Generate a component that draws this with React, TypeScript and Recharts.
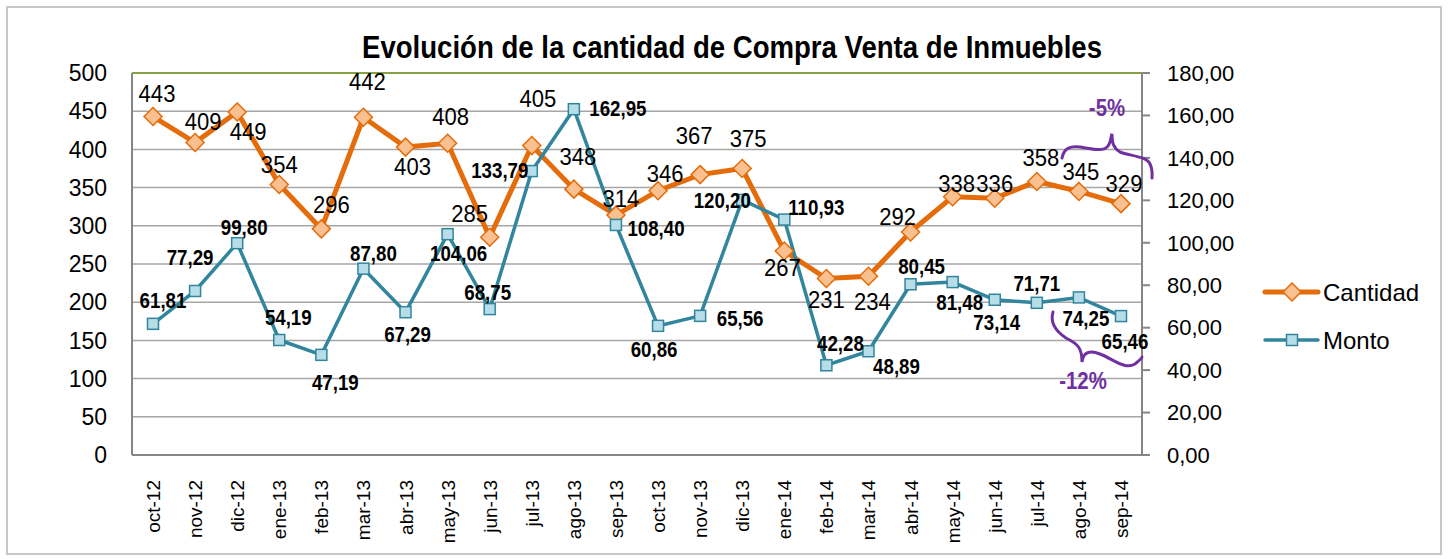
import React from "react";
import {
  LineChart,
  Line,
  XAxis,
  YAxis,
  CartesianGrid,
  ReferenceLine,
  LabelList,
} from "recharts";

const categories = [
  "oct-12", "nov-12", "dic-12", "ene-13", "feb-13", "mar-13", "abr-13", "may-13",
  "jun-13", "jul-13", "ago-13", "sep-13", "oct-13", "nov-13", "dic-13", "ene-14",
  "feb-14", "mar-14", "abr-14", "may-14", "jun-14", "jul-14", "ago-14", "sep-14",
];

const cantidad = [
  443, 409, 449, 354, 296, 442, 403, 408, 285, 405, 348, 314,
  346, 367, 375, 267, 231, 234, 292, 338, 336, 358, 345, 329,
];

const monto = [
  61.81, 77.29, 99.8, 54.19, 47.19, 87.8, 67.29, 104.06, 68.75, 133.79, 162.95, 108.4,
  60.86, 65.56, 120.2, 110.93, 42.28, 48.89, 80.45, 81.48, 73.14, 71.71, 74.25, 65.46,
];

const leftTicks = [0, 50, 100, 150, 200, 250, 300, 350, 400, 450, 500];
const rightTicks = [0, 20, 40, 60, 80, 100, 120, 140, 160, 180];

// label placement (dx, dy from the point to the label centre)
const cantidadLabelPos = [
  [4, -23], [8, -21], [11, 19], [0, -20], [10, -24], [4, -36], [7, 19], [3, -27],
  [-20, -24], [6, -47], [4, -33], [5, -17], [7, -17], [-6, -39], [6, -30], [-2, 16],
  [0, 21], [4, 25], [-13, -16], [4, -13], [0, -15], [4, -24], [2, -20], [3, -20],
];
const montoLabelPos = [
  [10, -24], [-5, -34], [7, -16], [9, -23], [14, 27], [10, -16], [2, 22], [11, 19],
  [-2, -17], [-32, -1], [44, -1], [40, 3], [-4, 23], [40, 2], [-20, 0], [32, -13],
  [14, -22], [28, 15], [11, -18], [7, 20], [2, 22], [0, -20], [7, 21], [4, 25],
];

const data = categories.map((mes, i) => ({ mes, cantidad: cantidad[i], monto: monto[i] }));

const ORANGE = "#E46C0A";
const ORANGE_FILL = "#FAC090";
const BLUE = "#31859C";
const BLUE_FILL = "#B7DEE8";
const PURPLE = "#7030A0";
const FONT = "'Liberation Sans', Arial, sans-serif";

const comma = (v: number) => v.toFixed(2).replace(".", ",");

const Diamond = (props: any) => {
  const { cx, cy } = props;
  if (cx == null || cy == null) return null;
  const r = 9;
  return (
    <polygon
      points={`${cx},${cy - r} ${cx + r},${cy} ${cx},${cy + r} ${cx - r},${cy}`}
      fill={ORANGE_FILL}
      stroke={ORANGE}
      strokeWidth={1.5}
    />
  );
};

const Square = (props: any) => {
  const { cx, cy } = props;
  if (cx == null || cy == null) return null;
  const s = 11;
  return (
    <rect x={cx - s / 2} y={cy - s / 2} width={s} height={s} fill={BLUE_FILL} stroke={BLUE} strokeWidth={1.5} />
  );
};

const cantidadLabel = (props: any) => {
  const { x, y, value, index } = props;
  const [dx, dy] = cantidadLabelPos[index];
  const fs = 24;
  return (
    <text
      transform={`translate(${x + dx},${y + dy + fs * 0.36}) scale(0.92,1)`}
      textAnchor="middle"
      fontSize={fs}
      fontFamily={FONT}
      fill="#000"
    >
      {value}
    </text>
  );
};

const montoLabel = (props: any) => {
  const { x, y, value, index } = props;
  const [dx, dy] = montoLabelPos[index];
  const fs = 22;
  return (
    <text
      transform={`translate(${x + dx},${y + dy + fs * 0.36}) scale(0.85,1)`}
      textAnchor="middle"
      fontSize={fs}
      fontWeight="bold"
      fontFamily={FONT}
      fill="#000"
    >
      {comma(value)}
    </text>
  );
};

const MonthTick = (props: any) => {
  const { x, y, payload } = props;
  return (
    <g transform={`translate(${x},${y})`}>
      <text transform="rotate(-90)" x={-23} y={7} textAnchor="end" fontSize={19} fontFamily={FONT} fill="#000">
        {payload.value}
      </text>
    </g>
  );
};

export default function App() {
  return (
    <div style={{ position: "absolute", left: 0, top: 0, width: 1450, height: 559, background: "#fff" }}>
      <div
        style={{
          position: "absolute",
          left: 6,
          top: 6,
          width: 1432,
          height: 545,
          border: "2px solid #C8C8C8",
        }}
      />
      <LineChart
        width={1450}
        height={559}
        data={data}
        margin={{ top: 73, right: 228, bottom: 24, left: 52 }}
      >
        <CartesianGrid yAxisId="left" vertical={false} stroke="#A6A6A6" strokeWidth={1.5} />
        <XAxis
          dataKey="mes"
          padding={{ left: 21, right: 21 }}
          height={80}
          axisLine={{ stroke: "#868686", strokeWidth: 2 }}
          tickLine={false}
          tickSize={0}
          tick={<MonthTick />}
          interval={0}
        />
        <YAxis
          yAxisId="left"
          width={80}
          domain={[0, 500]}
          ticks={leftTicks}
          interval={0}
          axisLine={{ stroke: "#868686", strokeWidth: 2 }}
          tickLine={false}
          tickSize={0}
          tickMargin={25}
          tick={{ fontSize: 23, fontFamily: FONT, fill: "#000" }}
        />
        <YAxis
          yAxisId="right"
          orientation="right"
          width={80}
          domain={[0, 180]}
          ticks={rightTicks}
          interval={0}
          tickFormatter={comma}
          axisLine={{ stroke: "#868686", strokeWidth: 2 }}
          tickLine={{ stroke: "#868686", strokeWidth: 2 }}
          tickSize={8}
          tickMargin={17}
          tick={{ fontSize: 22, fontFamily: FONT, fill: "#000" }}
        />
        <ReferenceLine yAxisId="left" y={500} stroke="#86A044" strokeWidth={2} />
        <Line
          yAxisId="left"
          dataKey="cantidad"
          name="Cantidad"
          type="linear"
          stroke={ORANGE}
          strokeWidth={5}
          dot={<Diamond />}
          activeDot={false}
          isAnimationActive={false}
        >
          <LabelList dataKey="cantidad" content={cantidadLabel} />
        </Line>
        <Line
          yAxisId="right"
          dataKey="monto"
          name="Monto"
          type="linear"
          stroke={BLUE}
          strokeWidth={3.5}
          dot={<Square />}
          activeDot={false}
          isAnimationActive={false}
        >
          <LabelList dataKey="monto" content={montoLabel} />
        </Line>
      </LineChart>
      <svg
        width={1450}
        height={559}
        style={{ position: "absolute", left: 0, top: 0, pointerEvents: "none" }}
      >
        <text
          x={732}
          y={58}
          textAnchor="middle"
          fontSize={31}
          fontWeight="bold"
          fontFamily={FONT}
          textLength={740}
          lengthAdjust="spacingAndGlyphs"
          fill="#000"
        >
          Evolución de la cantidad de Compra Venta de Inmuebles
        </text>

        <g transform="translate(1260,276)">
          <line x1={5} y1={16} x2={58} y2={16} stroke={ORANGE} strokeWidth={5} strokeLinecap="round" />
          <Diamond cx={32} cy={16} />
          <text x={63} y={25} fontSize={24} fontFamily={FONT} fill="#000">Cantidad</text>
          <line x1={5} y1={64} x2={58} y2={64} stroke={BLUE} strokeWidth={3.5} strokeLinecap="round" />
          <Square cx={32} cy={64} />
          <text x={63} y={73} fontSize={24} fontFamily={FONT} fill="#000">Monto</text>
        </g>

        <path
          d="M1062,158 C1064,148 1070,146 1080,147 C1092,149 1104,152 1108,146 C1111,142 1111,136 1112,134 C1112,142 1113,148 1120,152 C1130,156 1146,156 1150,164 C1153,170 1152,176 1152,178"
          fill="none"
          stroke={PURPLE}
          strokeWidth={3}
          strokeLinecap="round"
        />
        <text
          transform="translate(1107,116) scale(0.85,1)"
          textAnchor="middle"
          fontSize={24}
          fontWeight="bold"
          fontFamily={FONT}
          fill={PURPLE}
        >
          -5%
        </text>
        <path
          d="M1053,312 C1050,322 1054,330 1066,338 C1078,344 1082,348 1082,362 C1083,352 1090,350 1100,354 C1115,360 1125,370 1135,364 C1140,360 1142,358 1142,357"
          fill="none"
          stroke={PURPLE}
          strokeWidth={3}
          strokeLinecap="round"
        />
        <text
          transform="translate(1083,389) scale(0.85,1)"
          textAnchor="middle"
          fontSize={24}
          fontWeight="bold"
          fontFamily={FONT}
          fill={PURPLE}
        >
          -12%
        </text>
      </svg>
    </div>
  );
}
